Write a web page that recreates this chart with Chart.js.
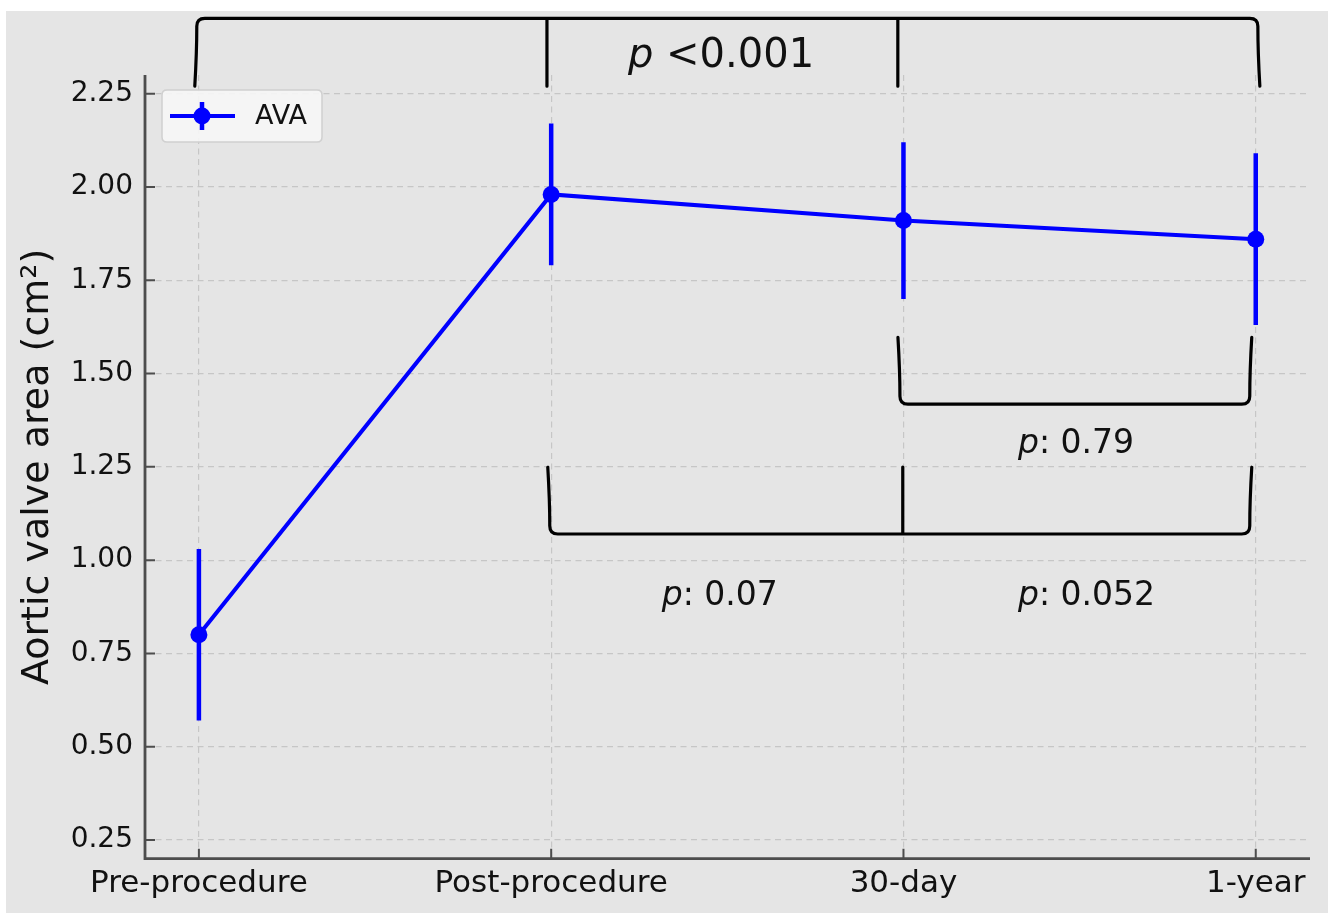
<!DOCTYPE html>
<html><head><meta charset="utf-8">
<script src="https://cdn.jsdelivr.net/npm/chart.js@4.4.1/dist/chart.umd.min.js"></script>
<style>
html,body{margin:0;padding:0;background:#fff;}
#wrap{position:absolute;left:0;top:0;width:1328px;height:915px;}
</style></head><body>
<div id="wrap"><canvas id="c" width="1328" height="915"></canvas></div>
<script>
// ---- data ----
const categories = ['Pre-procedure', 'Post-procedure', '30-day', '1-year'];
const seriesLabel = 'AVA';
const avaMean = [0.80, 1.98, 1.91, 1.86];
const avaErrLow = [0.57, 1.79, 1.70, 1.63];
const avaErrHigh = [1.03, 2.17, 2.12, 2.09];
const yTickValues = [0.25, 0.50, 0.75, 1.00, 1.25, 1.50, 1.75, 2.00, 2.25];
const yAxisTitle = 'Aortic valve area (cm²)';
// significance brackets, in data units (category index, y value)
const bracketLegs = [[-0.006, 0.988, 1.984, 3.006], [1.99, 2.983], [0.996, 1.998, 2.983]];
const bracketBar = [2.452, 1.418, 1.070];
const bracketEnds = [2.27, 1.597, 1.249];
const pLabelText = ['<0.001', ': 0.79', ': 0.07', ': 0.052'];
const pLabelX = [1.218, 2.325, 1.314, 2.325];
const pLabelY = [2.322, 1.286, 0.879, 0.879];

// ---- styles ----
const FONT = "'DejaVu Sans', 'Liberation Sans', sans-serif";
const BLUE = '#0000ff';
const TEXT = '#111111';
const SPINE = '#4d4d4d';
const pLabelSizes = [40, 33, 33, 33];

const bgPlugin = {
  id: 'bg',
  beforeDraw(chart) {
    const c = chart.ctx;
    c.save();
    c.fillStyle = '#ffffff';
    c.fillRect(0, 0, chart.width, chart.height);
    c.fillStyle = '#e5e5e5';
    c.fillRect(6, 11, chart.width - 6, chart.height - 13);
    c.restore();
  }
};

const axesPlugin = {
  id: 'axesErr',
  beforeDatasetsDraw(chart) {
    const c = chart.ctx, a = chart.chartArea;
    const xs = chart.scales.x, ys = chart.scales.y;
    c.save();
    // spines
    c.strokeStyle = SPINE; c.lineWidth = 2.8; c.lineCap = 'butt';
    c.beginPath();
    c.moveTo(a.left, a.top); c.lineTo(a.left, a.bottom + 1.4);
    c.moveTo(a.left - 1.4, a.bottom); c.lineTo(a.right, a.bottom);
    c.stroke();
    // inward ticks
    c.lineWidth = 2;
    c.beginPath();
    yTickValues.forEach(v => { const y = ys.getPixelForValue(v); c.moveTo(a.left, y); c.lineTo(a.left + 10, y); });
    categories.forEach((_, i) => { const x = xs.getPixelForValue(i); c.moveTo(x, a.bottom); c.lineTo(x, a.bottom - 10); });
    c.stroke();
    // error bars
    c.strokeStyle = BLUE; c.lineWidth = 4.5;
    c.beginPath();
    avaMean.forEach((_, i) => {
      const x = xs.getPixelForValue(i);
      c.moveTo(x, ys.getPixelForValue(avaErrLow[i]));
      c.lineTo(x, ys.getPixelForValue(avaErrHigh[i]));
    });
    c.stroke();
    c.restore();
  },
  afterDraw(chart) {
    const c = chart.ctx, a = chart.chartArea;
    const xs = chart.scales.x, ys = chart.scales.y;
    c.save();
    // legend
    const lx = a.left + 17, ly = a.top + 15, lw = 160, lh = 52, r = 5;
    c.beginPath();
    c.moveTo(lx + r, ly); c.lineTo(lx + lw - r, ly); c.quadraticCurveTo(lx + lw, ly, lx + lw, ly + r);
    c.lineTo(lx + lw, ly + lh - r); c.quadraticCurveTo(lx + lw, ly + lh, lx + lw - r, ly + lh);
    c.lineTo(lx + r, ly + lh); c.quadraticCurveTo(lx, ly + lh, lx, ly + lh - r);
    c.lineTo(lx, ly + r); c.quadraticCurveTo(lx, ly, lx + r, ly);
    c.closePath();
    c.fillStyle = 'rgba(246,246,246,0.9)'; c.fill();
    c.strokeStyle = '#d0d0d0'; c.lineWidth = 1.5; c.stroke();
    const cy = ly + lh / 2, mx = lx + 40;
    c.strokeStyle = BLUE; c.lineWidth = 4;
    c.beginPath(); c.moveTo(lx + 8, cy); c.lineTo(lx + 73, cy); c.stroke();
    c.lineWidth = 4.5;
    c.beginPath(); c.moveTo(mx, cy - 14); c.lineTo(mx, cy + 14); c.stroke();
    c.fillStyle = BLUE; c.beginPath(); c.arc(mx, cy, 8.5, 0, Math.PI * 2); c.fill();
    c.fillStyle = TEXT; c.font = '27px ' + FONT; c.textBaseline = 'middle'; c.textAlign = 'left';
    c.fillText(seriesLabel, lx + 93, cy + 1);

    // brackets
    c.strokeStyle = '#000'; c.lineWidth = 3.2; c.lineCap = 'round'; c.lineJoin = 'round';
    bracketLegs.forEach((legs, k) => {
      const bar = ys.getPixelForValue(bracketBar[k]);
      const ends = ys.getPixelForValue(bracketEnds[k]);
      const s = Math.sign(ends - bar), rr = 8;
      const px = legs.map(v => xs.getPixelForValue(v));
      const x0 = px[0], xn = px[px.length - 1];
      c.beginPath();
      c.moveTo(x0 - 2, ends); c.quadraticCurveTo(x0, (ends + bar) / 2, x0, bar + s * rr); c.quadraticCurveTo(x0, bar, x0 + rr, bar);
      c.lineTo(xn - rr, bar); c.quadraticCurveTo(xn, bar, xn, bar + s * rr); c.quadraticCurveTo(xn, (ends + bar) / 2, xn + 2, ends);
      for (let i = 1; i < px.length - 1; i++) { c.moveTo(px[i], bar); c.lineTo(px[i], ends); }
      c.stroke();
    });
    // p-value labels
    c.textBaseline = 'alphabetic'; c.textAlign = 'left'; c.fillStyle = TEXT;
    pLabelText.forEach((t, k) => {
      const x = xs.getPixelForValue(pLabelX[k]);
      const y = ys.getPixelForValue(pLabelY[k]);
      const sz = pLabelSizes[k];
      c.font = 'italic ' + sz + 'px ' + FONT;
      c.fillText('p', x, y);
      const w = c.measureText('p').width;
      c.font = sz + 'px ' + FONT;
      c.fillText(k === 0 ? ' ' + t : t, x + w, y);
    });
    c.restore();
  }
};

new Chart(document.getElementById('c'), {
  type: 'line',
  data: {
    datasets: [{
      label: seriesLabel,
      data: avaMean.map((v, i) => ({ x: i, y: v })),
      borderColor: BLUE, backgroundColor: BLUE,
      borderWidth: 4, tension: 0,
      pointRadius: 8.5, pointHoverRadius: 8.5, pointBorderWidth: 0,
      pointBackgroundColor: BLUE
    }]
  },
  options: {
    responsive: false, animation: false, devicePixelRatio: 1,
    layout: { padding: { top: 75, right: 18, bottom: 0, left: 0 } },
    plugins: { legend: { display: false }, tooltip: { enabled: false } },
    scales: {
      x: {
        type: 'linear', min: -0.153, max: 3.154,
        afterBuildTicks: s => { s.ticks = categories.map((_, i) => ({ value: i })); },
        afterFit: s => { s.height = 56.3; },
        ticks: { callback: v => categories[v], font: { family: FONT, size: 31 }, color: TEXT, padding: 7, maxRotation: 0, autoSkip: false },
        grid: { color: '#c6c6c6', lineWidth: 1.2, drawTicks: false },
        border: { display: false, dash: [6, 4.5] }
      },
      y: {
        min: 0.2, max: 2.3,
        afterBuildTicks: s => { s.ticks = yTickValues.map(v => ({ value: v })); },
        afterFit: s => { s.width = 145; },
        ticks: { callback: v => v.toFixed(2), font: { family: FONT, size: 28 }, color: TEXT, padding: 12 },
        grid: { color: '#c6c6c6', lineWidth: 1.2, drawTicks: false },
        border: { display: false, dash: [6, 4.5] },
        title: { display: true, text: yAxisTitle, font: { family: FONT, size: 38 }, color: TEXT, padding: { top: 15, bottom: 0 } }
      }
    }
  },
  plugins: [bgPlugin, axesPlugin]
});
</script>
</body></html>
